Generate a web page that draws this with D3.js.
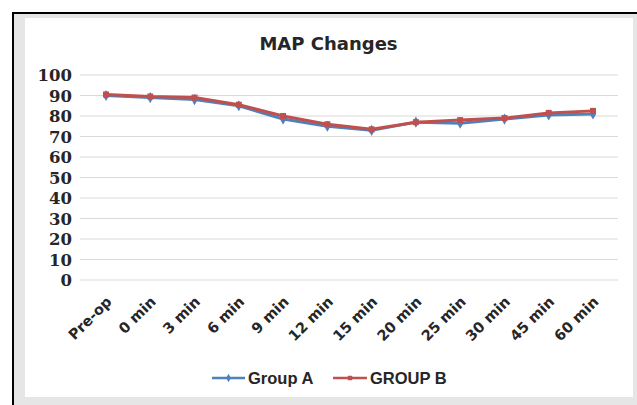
<!DOCTYPE html>
<html>
<head>
<meta charset="utf-8">
<script src="https://cdn.jsdelivr.net/npm/d3@7"></script>
<style>
html,body{margin:0;padding:0;background:#fff;}
svg{display:block;}
</style>
</head>
<body>
<svg id="chart" width="637" height="405"></svg>
<script>
const categories = ["Pre-op","0 min","3 min","6 min","9 min","12 min","15 min","20 min","25 min","30 min","45 min","60 min"];
const groupA = [90, 89, 88, 85, 78.5, 75, 73, 77, 76.5, 78.5, 80.5, 81];
const groupB = [90.5, 89.5, 89, 85.5, 80, 76, 73.5, 77, 78, 79, 81.5, 82.5];
const yTicks = [0,10,20,30,40,50,60,70,80,90,100];
const seriesNames = ["Group A","GROUP B"];
const seriesColors = ["#4f81bd","#c0504d"];
const title = "MAP Changes";

const svg = d3.select("#chart");

// outer frame (right and bottom edges fall outside the picture)
svg.append("rect").attr("x",13).attr("y",13).attr("width",640).attr("height",410)
  .attr("fill","#e6e6e6").attr("stroke","#000").attr("stroke-width",2);
svg.append("rect").attr("x",25).attr("y",18).attr("width",608).attr("height",379)
  .attr("fill","#fff");

const x = d3.scalePoint().domain(categories).range([106,593]);
const y = d3.scaleLinear().domain([0,100]).range([280,75]);
const gridX0 = 80, gridX1 = 618;

// gridlines
svg.append("g").selectAll("line").data(yTicks).join("line")
  .attr("x1",gridX0).attr("x2",gridX1)
  .attr("y1",d=>y(d)).attr("y2",d=>y(d))
  .attr("stroke","#d9d9d9").attr("stroke-width",1);

// y axis labels
const yAxis = d3.axisLeft(y).tickValues(yTicks).tickSize(0).tickPadding(0);
const yg = svg.append("g").attr("transform","translate(72,0)").call(yAxis);
yg.select(".domain").remove();
yg.selectAll("text").attr("font-family","'DejaVu Serif', serif").attr("font-weight","bold")
  .attr("font-size","16.5px").attr("fill","#262626").attr("dy","0.35em");

// x axis labels
const xAxis = d3.axisBottom(x).tickSize(0).tickPadding(0);
const xg = svg.append("g").call(xAxis);
xg.select(".domain").remove();
xg.selectAll(".tick").attr("transform",d=>`translate(${x(d)+3},299)`);
xg.selectAll("text")
  .attr("font-family","'DejaVu Sans', sans-serif").attr("font-weight","bold")
  .attr("font-size","14.5px").attr("fill","#262626")
  .attr("text-anchor","end").attr("x",0).attr("y",0).attr("dy","0.35em")
  .attr("transform","rotate(-45)");

// title
svg.append("text").attr("x",328.5).attr("y",50).attr("text-anchor","middle")
  .attr("font-family","'DejaVu Sans', sans-serif").attr("font-weight","bold")
  .attr("font-size","18px").attr("fill","#262626").text(title);

// lines
const line = d3.line().x((d,i)=>x(categories[i])).y(d=>y(d));
const series = [groupA, groupB];
const symbols = [d3.symbolDiamond, d3.symbolSquare];
series.forEach((s,k)=>{
  svg.append("path").datum(s).attr("d",line).attr("fill","none")
    .attr("stroke",seriesColors[k]).attr("stroke-width",3).attr("stroke-linejoin","round");
  svg.append("g").selectAll("path").data(s).join("path")
    .attr("transform",(d,i)=>`translate(${x(categories[i])},${y(d)})`)
    .attr("d",d3.symbol().type(symbols[k]).size(36))
    .attr("fill",seriesColors[k]);
});

// legend
const legendItems = [{x1:212,x2:245,tx:248},{x1:333,x2:367,tx:370}];
legendItems.forEach((it,k)=>{
  svg.append("line").attr("x1",it.x1).attr("x2",it.x2).attr("y1",378).attr("y2",378)
    .attr("stroke",seriesColors[k]).attr("stroke-width",2.5);
  svg.append("path").attr("transform",`translate(${(it.x1+it.x2)/2},378)`)
    .attr("d",d3.symbol().type(symbols[k]).size(20)).attr("fill",seriesColors[k]);
  svg.append("text").attr("x",it.tx).attr("y",383.5)
    .attr("font-family","'Liberation Sans', sans-serif").attr("font-weight","bold")
    .attr("font-size","16.5px").attr("fill","#262626").text(seriesNames[k]);
});
</script>
</body>
</html>
